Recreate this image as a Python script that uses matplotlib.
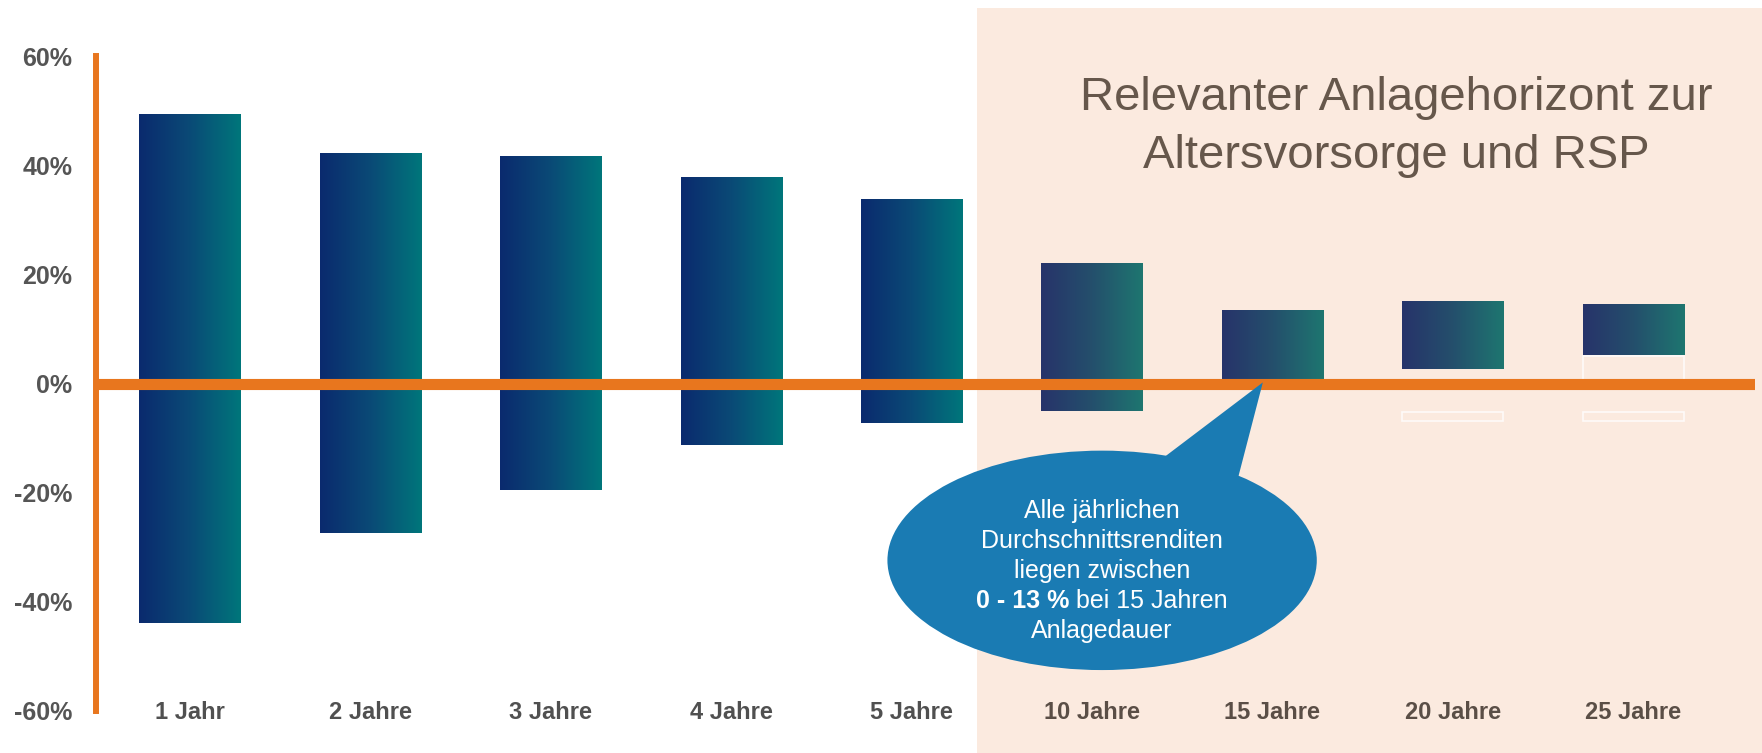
import numpy as np
import matplotlib
matplotlib.use("Agg")
import matplotlib.pyplot as plt
from matplotlib.colors import LinearSegmentedColormap
from matplotlib.patches import Rectangle, Ellipse, Polygon
import matplotlib.transforms as mtransforms

plt.rcParams['font.family'] = ['Liberation Sans', 'DejaVu Sans']

# ---- data ----
categories = ["1 Jahr", "2 Jahre", "3 Jahre", "4 Jahre", "5 Jahre",
              "10 Jahre", "15 Jahre", "20 Jahre", "25 Jahre"]
max_returns = [49.4, 42.2, 41.6, 37.7, 33.7, 22.0, 13.4, 15.0, 14.6]
min_returns = [-43.8, -27.4, -19.5, -11.3, -7.2, -5.1, 0.0, 2.7, 5.3]
ytick_values = [-60, -40, -20, 0, 20, 40, 60]
ytick_labels = ["-60%", "-40%", "-20%", "0%", "20%", "40%", "60%"]
title_lines = ["Relevanter Anlagehorizont zur", "Altersvorsorge und RSP"]
callout_lines = ["Alle jährlichen", "Durchschnittsrenditen", "liegen zwischen"]
callout_bold = "0 - 13 %"
callout_rest = "bei 15 Jahren"
callout_last = "Anlagedauer"
# faint ghost outlines visible in the original (category index, low, high)
ghost_idx = [7, 8, 8]
ghost_low = [-6.8, -6.8, 0.6]
ghost_high = [-5.2, -5.2, 5.0]

# ---- style ----
W, H, DPI = 1762, 753, 100
orange = "#E8761E"
peach = "#FBEADF"
callout_color = "#1A7BB3"
cm_plain = LinearSegmentedColormap.from_list("plain", ["#0B2A6E", "#0A4A76", "#00767B"])
cm_shade = LinearSegmentedColormap.from_list("shade", ["#27336A", "#244F6C", "#1E7670"])

fig = plt.figure(figsize=(W / DPI, H / DPI), dpi=DPI, facecolor="white")

# shaded horizon region (figure coordinates)
shade_left_px = 976.5
fig.patches.append(Rectangle((shade_left_px / W, 0), 1 - shade_left_px / W, 1 - 8 / H,
                             transform=fig.transFigure, facecolor=peach,
                             edgecolor="none", zorder=-5))

ax_left, ax_right = 96 / W, 1755 / W
ax_top, ax_bot = 1 - 56 / H, 1 - 711 / H
ax = fig.add_axes([ax_left, ax_bot, ax_right - ax_left, ax_top - ax_bot])
ax.set_facecolor("none")
ax.set_zorder(1)

x0_px, step_px = 190.0, 180.4
xmin = (96 - x0_px) / step_px
xmax = (1755 - x0_px) / step_px
shade_x = (shade_left_px - x0_px) / step_px

x = np.arange(len(categories))
bw = 0.56
grad = np.linspace(0, 1, 256).reshape(1, -1)
for xi, lo, hi in zip(x, min_returns, max_returns):
    cmap = cm_shade if xi > shade_x else cm_plain
    ax.imshow(grad, extent=[xi - bw / 2, xi + bw / 2, lo, hi], cmap=cmap,
              aspect="auto", interpolation="bicubic", zorder=2)

for gi, lo, hi in zip(ghost_idx, ghost_low, ghost_high):
    ax.add_patch(Rectangle((gi - bw / 2, lo), bw, hi - lo, facecolor="none",
                           edgecolor="white", lw=1.2, alpha=0.8, zorder=2))

ax.set_xlim(xmin, xmax)
ax.set_ylim(-60, 60)

# zero line and left axis
ax.axhline(0, color=orange, lw=8, zorder=3, solid_capstyle="butt")
for s in ["top", "right", "bottom"]:
    ax.spines[s].set_visible(False)
ax.spines["left"].set_color(orange)
ax.spines["left"].set_linewidth(4.3)
ax.spines["left"].set_zorder(3)
ax.set_xticks([])
ax.set_yticks(ytick_values)
ax.set_yticklabels(ytick_labels, fontsize=18, fontweight="bold", color="#555555")
ax.tick_params(axis="y", length=0, pad=17)

# category labels
for xi, lab in zip(x, categories):
    col = "#5A4E46" if xi > shade_x else "#505050"
    ax.text(xi, -60.3, lab, ha="center", va="center", fontsize=17,
            fontweight="bold", color=col, zorder=5)

# title in shaded region
tx = (1396 - x0_px) / step_px
ax.text(tx, 50.1, title_lines[0], ha="center", va="baseline", fontsize=34,
        color="#66574B", zorder=5)
ax.text(tx, 39.5, title_lines[1], ha="center", va="baseline", fontsize=34,
        color="#66574B", zorder=5)

# callout bubble
ecx, ecy = 5.056, -32.4
ax.add_patch(Ellipse((ecx, ecy), 2.38, 40.2, facecolor=callout_color,
                     edgecolor="none", zorder=4))
ax.add_patch(Polygon([(5.30, -16.0), (5.80, -18.5), (5.947, 0.2)], closed=True,
                     facecolor=callout_color, edgecolor="none", zorder=4))

fs = 18
line_step = 30.0 / 327.5 * 60  # data units per line
tcx = (1102 - x0_px) / step_px
base0 = (383.5 - 518) / 327.5 * 60
for i, ln in enumerate(callout_lines):
    ax.text(tcx, base0 - i * line_step, ln, ha="center", va="baseline",
            fontsize=fs, color="white", zorder=5)
# mixed-weight line
renderer = fig.canvas.get_renderer()
tb = ax.text(0, 0, callout_bold, fontsize=fs, fontweight="bold", color="white",
             ha="left", va="baseline", zorder=5)
trr = ax.text(0, 0, callout_rest, fontsize=fs, color="white",
              ha="left", va="baseline", zorder=5)
wb = tb.get_window_extent(renderer).width
wr = trr.get_window_extent(renderer).width
gap = 0.278 * fs * DPI / 72
total = wb + gap + wr
y4 = base0 - 3 * line_step
tb.set_position((tcx, y4))
trr.set_position((tcx, y4))
tb.set_transform(mtransforms.offset_copy(ax.transData, fig, x=-total / 2, y=0, units="dots"))
trr.set_transform(mtransforms.offset_copy(ax.transData, fig, x=-total / 2 + wb + gap, y=0, units="dots"))
ax.text(tcx, base0 - 4 * line_step, callout_last, ha="center", va="baseline",
        fontsize=fs, color="white", zorder=5)

fig.savefig("out.png", dpi=DPI, facecolor="white")
